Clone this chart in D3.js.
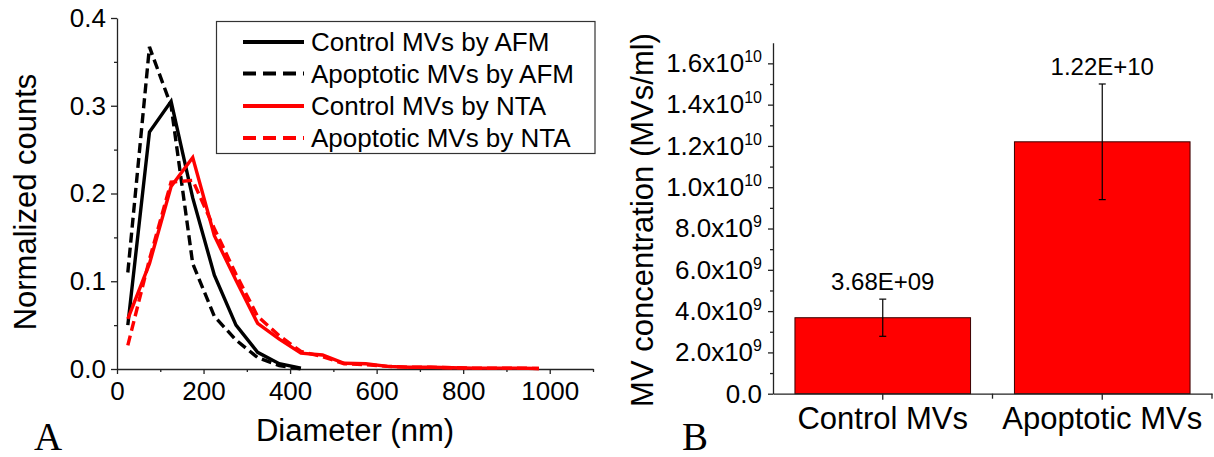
<!DOCTYPE html>
<html>
<head>
<meta charset="utf-8">
<script src="https://cdn.jsdelivr.net/npm/d3@7"></script>
<style>
  html, body { margin: 0; padding: 0; background: #fff; }
  svg { display: block; font-family: "Liberation Sans", Arial, sans-serif; }
</style>
</head>
<body>
<svg id="fig" width="1214" height="457"></svg>
<script>
// ---- Panel A: size distributions (bin centres in nm) ----
const diameters = [25, 75, 125, 175, 225, 275, 325, 375, 425, 475, 525, 575, 625, 675, 725, 775, 825, 875, 925, 975];
const controlAFM = [0.050, 0.270, 0.305, 0.195, 0.107, 0.050, 0.019, 0.006, 0.001];
const apoptoticAFM = [0.110, 0.367, 0.300, 0.120, 0.060, 0.033, 0.013, 0.004, 0.000];
const controlNTA = [0.057, 0.120, 0.208, 0.241, 0.152, 0.101, 0.052, 0.034, 0.018, 0.016, 0.0065, 0.006, 0.003, 0.002, 0.002, 0.0015, 0.001, 0.001, 0.001, 0.0005];
const apoptoticNTA = [0.027, 0.125, 0.213, 0.215, 0.160, 0.108, 0.060, 0.038, 0.020, 0.014, 0.006, 0.005, 0.003, 0.002, 0.002, 0.0015, 0.001, 0.001, 0.001, 0.0005];
const seriesNames = ["Control MVs by AFM", "Apoptotic MVs by AFM", "Control MVs by NTA", "Apoptotic MVs by NTA"];
const diameterTicks = [0, 200, 400, 600, 800, 1000];
const countTicks = [0, 0.1, 0.2, 0.3, 0.4];

// ---- Panel B: MV concentrations ----
const groups = ["Control MVs", "Apoptotic MVs"];
const concentrations = [3.68e9, 1.22e10];
const concentrationErrors = [0.9e9, 2.8e9];
const concentrationLabels = ["3.68E+09", "1.22E+10"];
const concentrationTicks = [0, 2e9, 4e9, 6e9, 8e9, 1e10, 1.2e10, 1.4e10, 1.6e10];

const svg = d3.select("#fig");
const AXIS = "#222";

// ================= Panel A =================
const xA = d3.scaleLinear().domain([0, 1100]).range([117, 593]);
const yA = d3.scaleLinear().domain([0, 0.4]).range([369, 18]);

const gA = svg.append("g");

function styleAxis(g) {
  g.selectAll(".domain").attr("stroke", AXIS).attr("stroke-width", 1.3);
  g.selectAll(".tick line").attr("stroke", AXIS).attr("stroke-width", 1.3);
  g.selectAll(".tick text").attr("fill", "#000");
}

// minor ticks
gA.append("g").attr("transform", `translate(0,${yA(0)})`)
  .call(d3.axisBottom(xA).tickValues(d3.range(100, 1101, 200)).tickSize(3).tickFormat(""))
  .call(g => g.select(".domain").remove()).call(styleAxis);
gA.append("g").attr("transform", `translate(${xA(0)},0)`)
  .call(d3.axisLeft(yA).tickValues(d3.range(0.05, 0.4, 0.1)).tickSize(3).tickFormat(""))
  .call(g => g.select(".domain").remove()).call(styleAxis);

gA.append("g").attr("transform", `translate(0,${yA(0)})`)
  .call(d3.axisBottom(xA).tickValues(diameterTicks).tickSizeInner(5).tickSizeOuter(0).tickPadding(8).tickFormat(d3.format("d")))
  .call(g => g.selectAll("text").attr("font-size", 26))
  .call(styleAxis);
gA.append("g").attr("transform", `translate(${xA(0)},0)`)
  .call(d3.axisLeft(yA).tickValues(countTicks).tickSizeInner(6).tickSizeOuter(0).tickPadding(5).tickFormat(d3.format(".1f")))
  .call(g => g.selectAll("text").attr("font-size", 26))
  .call(styleAxis);

gA.append("text").attr("transform", "translate(36,202) rotate(-90)")
  .attr("text-anchor", "middle").attr("font-size", 31).text("Normalized counts");
gA.append("text").attr("x", 355).attr("y", 441)
  .attr("text-anchor", "middle").attr("font-size", 31).text("Diameter (nm)");

const seriesDefs = [
  { name: seriesNames[0], values: controlAFM, color: "#000", dash: null },
  { name: seriesNames[1], values: apoptoticAFM, color: "#000", dash: "10,5" },
  { name: seriesNames[2], values: controlNTA, color: "#ff0000", dash: null },
  { name: seriesNames[3], values: apoptoticNTA, color: "#ff0000", dash: "10,5" }
];

const line = d3.line().x(d => xA(d[0])).y(d => yA(d[1]));
seriesDefs.forEach(s => {
  const pts = s.values.map((v, i) => [diameters[i], v]);
  gA.append("path").datum(pts)
    .attr("d", line).attr("fill", "none")
    .attr("stroke", s.color).attr("stroke-width", 3.4)
    .attr("stroke-dasharray", s.dash);
});

// legend
const leg = gA.append("g");
leg.append("rect").attr("x", 216.5).attr("y", 21.5).attr("width", 378.5).attr("height", 132)
  .attr("fill", "#fff").attr("stroke", "#333").attr("stroke-width", 1.2);
const legRows = [42, 73.5, 106, 138];
seriesDefs.forEach((s, i) => {
  leg.append("line").attr("x1", 243).attr("x2", 304).attr("y1", legRows[i]).attr("y2", legRows[i])
    .attr("stroke", s.color).attr("stroke-width", 4).attr("stroke-dasharray", s.dash ? "13,7" : null);
  leg.append("text").attr("x", 311).attr("y", legRows[i]).attr("dy", "0.35em")
    .attr("font-size", 26).text(s.name);
});

svg.append("text").attr("x", 34).attr("y", 450).attr("font-family", "'Liberation Serif', 'Times New Roman', serif")
  .attr("font-size", 39).text("A");

// ================= Panel B =================
const xB = d3.scaleBand().domain(groups).range([773, 1212]).paddingInner(0.2).paddingOuter(0.1);
const yB = d3.scaleLinear().domain([0, 1.7e10]).range([393.7, 42.7]);
const gB = svg.append("g");

// minor y ticks
gB.append("g").attr("transform", `translate(${xB.range()[0]},0)`)
  .call(d3.axisLeft(yB).tickValues(d3.range(1e9, 1.7e10, 2e9)).tickSize(3).tickFormat(""))
  .call(g => g.select(".domain").remove()).call(styleAxis);

// bars
gB.selectAll("rect.bar").data(groups).join("rect").attr("class", "bar")
  .attr("x", d => xB(d)).attr("width", xB.bandwidth())
  .attr("y", (d, i) => yB(concentrations[i]))
  .attr("height", (d, i) => yB(0) - yB(concentrations[i]))
  .attr("fill", "#ff0000").attr("stroke", "#3a0000").attr("stroke-width", 1);

// error bars
groups.forEach((g, i) => {
  const cx = xB(g) + xB.bandwidth() / 2;
  const hi = yB(concentrations[i] + concentrationErrors[i]);
  const lo = yB(concentrations[i] - concentrationErrors[i]);
  const eb = gB.append("g").attr("stroke", "#000").attr("stroke-width", 1.2);
  eb.append("line").attr("x1", cx).attr("x2", cx).attr("y1", hi).attr("y2", lo);
  eb.append("line").attr("x1", cx - 3.5).attr("x2", cx + 3.5).attr("y1", hi).attr("y2", hi);
  eb.append("line").attr("x1", cx - 3.5).attr("x2", cx + 3.5).attr("y1", lo).attr("y2", lo);
  gB.append("text").attr("x", cx).attr("y", hi - 9)
    .attr("text-anchor", "middle").attr("font-size", 24).text(concentrationLabels[i]);
});

// category axis with group boundary ticks
gB.append("g").attr("transform", `translate(0,${yB(0)})`)
  .call(d3.axisBottom(xB).tickSizeInner(6).tickSizeOuter(0).tickPadding(7))
  .call(g => g.selectAll("text").attr("font-size", 31))
  .call(styleAxis);
gB.append("g").attr("transform", `translate(0,${yB(0)})`)
  .selectAll("line").data([1, 2]).join("line")
  .attr("x1", d => xB.range()[0] + d * xB.step()).attr("x2", d => xB.range()[0] + d * xB.step())
  .attr("y1", 0).attr("y2", 5).attr("stroke", AXIS).attr("stroke-width", 1.3);

// y axis with scientific labels
gB.append("g").attr("transform", `translate(${xB.range()[0]},0)`)
  .call(d3.axisLeft(yB).tickValues(concentrationTicks).tickSizeInner(5).tickSizeOuter(0).tickPadding(6))
  .call(styleAxis)
  .call(g => g.selectAll(".tick text").attr("font-size", 26).each(function (d) {
    const t = d3.select(this).text(null);
    if (d === 0) { t.append("tspan").text("0.0"); return; }
    const e = Math.floor(Math.log10(d) + 1e-9);
    const m = d / Math.pow(10, e);
    t.append("tspan").text(m.toFixed(1) + "x10");
    t.append("tspan").attr("font-size", 16).attr("dy", -10).text(e);
  }));

gB.append("text").attr("transform", "translate(653,220) rotate(-90)")
  .attr("text-anchor", "middle").attr("font-size", 31).text("MV concentration (MVs/ml)");

svg.append("text").attr("x", 682).attr("y", 450).attr("font-family", "'Liberation Serif', 'Times New Roman', serif")
  .attr("font-size", 39).text("B");
</script>
</body>
</html>
